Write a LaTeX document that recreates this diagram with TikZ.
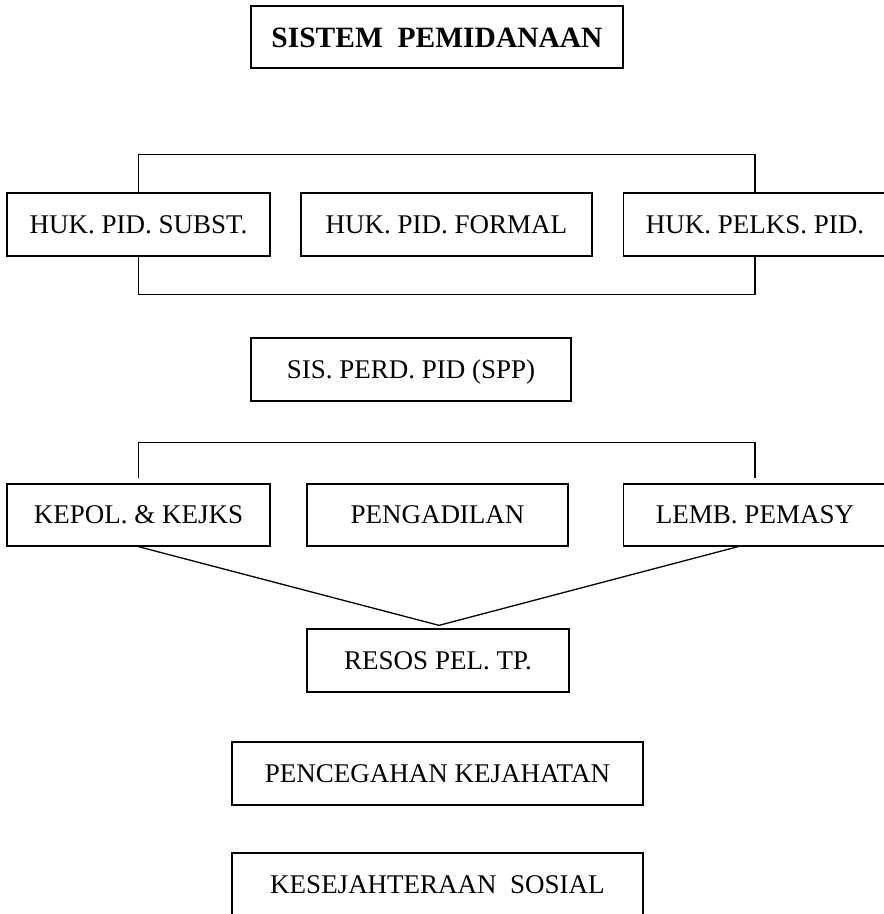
\documentclass[tikz,border=0pt]{standalone}
\usepackage{fontspec}
\setmainfont{Liberation Serif}
\usetikzlibrary{calc}

\begin{document}
\begin{tikzpicture}[x=1pt,y=-1pt,line width=1.3pt,
        blok/.style={draw,inner sep=0pt,minimum height=63pt,text height=17.9pt,text depth=0pt,
            font=\fontsize{27}{32}\selectfont}]
        \useasboundingbox (0,0) rectangle (884,914);
        \clip (0,0) rectangle (884,914);
        \node[blok,minimum width=372pt,minimum height=62pt,text height=20pt,
            font=\fontsize{29.5}{34}\selectfont\bfseries] (sistem) at (437,37) {SISTEM~~PEMIDANAAN};
        \node[blok,minimum width=263pt] (subst) at (138.5,224.5) {HUK. PID. SUBST.};
        \node[blok,minimum width=291pt] (formal) at (446.5,224.5) {HUK. PID. FORMAL};
        \node[blok,minimum width=263pt] (pelks) at (755,224.5) {HUK. PELKS. PID.};
        \draw (subst.north) -- ++(0,-38) -| (pelks.north);
        \draw (subst.south) -- ++(0,38) -| (pelks.south);
        \node[blok,minimum width=320pt] (spp) at (411,369.5) {SIS. PERD. PID (SPP)};
        \node[blok,minimum width=263pt,minimum height=62pt] (kepol) at (138.5,515) {KEPOL. \& KEJKS};
        \node[blok,minimum width=261pt,minimum height=62pt] (adil) at (437.5,515) {PENGADILAN};
        \node[blok,minimum width=263pt,minimum height=62pt] (lemb) at (755,515) {LEMB. PEMASY};
        \draw ($(kepol.north)+(0,-5)$) -- ++(0,-36) -| ($(lemb.north)+(0,-5)$);
        \node[blok,minimum width=262pt] (resos) at (438,660.5) {RESOS PEL. TP.};
        \coordinate (temu) at ($(resos.north)+(1,-3)$);
        \coordinate (lembkaki) at ($(lemb.south)+(-17,0)$);
        \draw (kepol.south) -- (temu) -- (lembkaki);
        \node[blok,minimum width=411pt] (cegah) at (437.5,773.5) {PENCEGAHAN KEJAHATAN};
        \node[blok,minimum width=411pt] (sejahtera) at (437.5,884.5) {KESEJAHTERAAN~~SOSIAL};
    \end{tikzpicture}
\end{document}
